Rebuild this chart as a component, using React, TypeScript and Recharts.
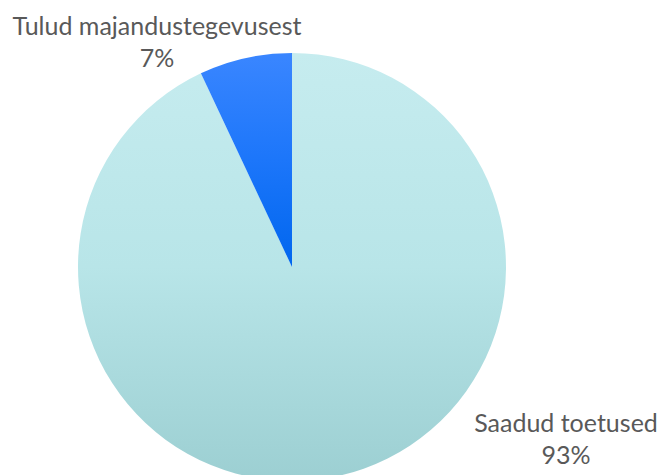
import { PieChart, Pie, Cell } from "recharts";

const categories = ["Saadud toetused", "Tulud majandustegevusest"];
const values = [93, 7];
const percentLabels = ["93%", "7%"];

const GRADIENTS = [
  { id: "gradToetused", top: "#c6ecef", mid: "#b8e5e8", bottom: "#9ccfd2" },
  { id: "gradTulud", top: "#3a86ff", mid: "#1c76fa", bottom: "#0066ee" },
];

// label anchor offsets from the pie centre (text centre x, first baseline y)
const LABEL_OFFSETS = [
  { dx: 274, dy: 165 },
  { dx: -135, dy: -232 },
];

const data = categories.map((name, i) => ({ name, value: values[i] }));

const renderLabel = (props: any) => {
  const { cx, cy, index } = props;
  const off = LABEL_OFFSETS[index];
  const x = cx + off.dx;
  const y = cy + off.dy;
  return (
    <text
      x={x}
      y={y}
      textAnchor="middle"
      fill="#595959"
      fontFamily="Lato, 'Open Sans', sans-serif"
      fontSize={25}
    >
      <tspan x={x} dy={0}>{categories[index]}</tspan>
      <tspan x={x} dy={32}>{percentLabels[index]}</tspan>
    </text>
  );
};

export default function App() {
  return (
    <div style={{ position: "fixed", left: 0, top: 0, width: 661, height: 475, background: "#fff" }}>
      <PieChart width={661} height={475} margin={{ top: 0, right: 0, bottom: 0, left: 0 }}>
        <defs>
          {GRADIENTS.map((g) => (
            <linearGradient key={g.id} id={g.id} x1="0" y1="0" x2="0" y2="1">
              <stop offset="0%" stopColor={g.top} />
              <stop offset="50%" stopColor={g.mid} />
              <stop offset="100%" stopColor={g.bottom} />
            </linearGradient>
          ))}
        </defs>
        <Pie
          data={data}
          dataKey="value"
          nameKey="name"
          cx={292}
          cy={267}
          outerRadius={214}
          startAngle={90}
          endAngle={-270}
          stroke="none"
          label={renderLabel}
          labelLine={false}
          isAnimationActive={false}
        >
          {data.map((d, i) => (
            <Cell key={d.name} fill={`url(#${GRADIENTS[i].id})`} />
          ))}
        </Pie>
      </PieChart>
    </div>
  );
}
